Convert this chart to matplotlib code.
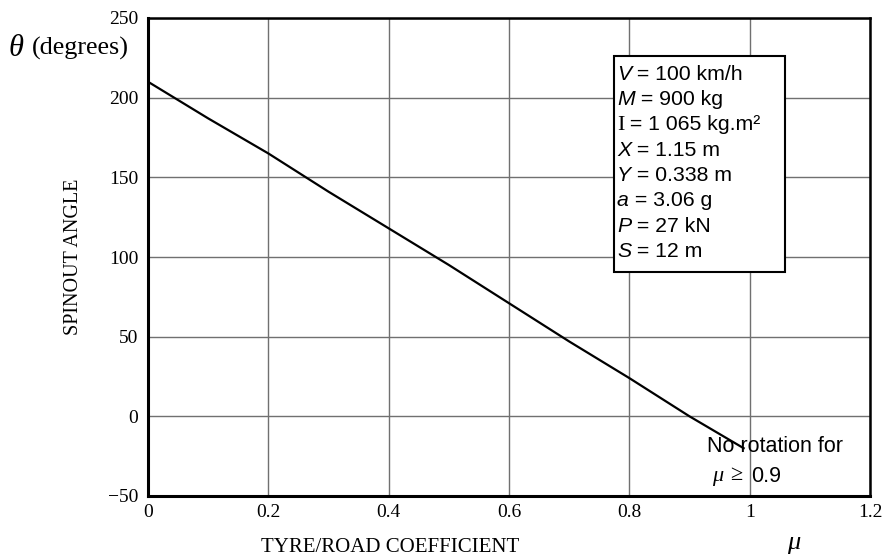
import matplotlib
matplotlib.use("Agg")
import matplotlib.pyplot as plt
from matplotlib.patches import Rectangle
from matplotlib.offsetbox import TextArea, HPacker, AnchoredOffsetbox

mu = [0.0, 0.1, 0.2, 0.3, 0.4, 0.5, 0.6, 0.7, 0.8, 0.9, 0.99]
theta = [210, 187, 165, 141, 118, 95, 71, 47, 24, 0, -20]

xticks = [0, 0.2, 0.4, 0.6, 0.8, 1.0, 1.2]
xticklabels = ["0", "0.2", "0.4", "0.6", "0.8", "1", "1.2"]
yticks = [-50, 0, 50, 100, 150, 200, 250]
yticklabels = ["\u221250", "0", "50", "100", "150", "200", "250"]

params = [
    ("V", "it", " = 100 km/h"),
    ("M", "it", " = 900 kg"),
    ("I", "serif", " = 1 065 kg.m\u00b2"),
    ("X", "it", " = 1.15 m"),
    ("Y", "it", " = 0.338 m"),
    ("a", "it", " = 3.06 g"),
    ("P", "it", " = 27 kN"),
    ("S", "it", " = 12 m"),
]

SERIF = "Liberation Serif"
SANS = "Liberation Sans"
W, H = 890, 559


def fx(px):
    return px / W


def fy(py):
    return 1 - py / H


fig = plt.figure(figsize=(8.9, 5.59), dpi=100)
ax = fig.add_axes([fx(148), fy(496), fx(870) - fx(148), fy(18) - fy(496)])

ax.plot(mu, theta, color="black", lw=1.6, zorder=3)

ax.set_xlim(0, 1.2)
ax.set_ylim(-50, 250)
ax.set_xticks(xticks)
ax.set_xticklabels(xticklabels, fontfamily=SERIF, fontsize=14)
ax.set_yticks(yticks)
ax.set_yticklabels(yticklabels, fontfamily=SERIF, fontsize=14)
ax.tick_params(axis="y", length=0, pad=7)
ax.tick_params(axis="x", length=0, pad=6)
ax.grid(True, color="#707070", lw=1.0)
ax.set_axisbelow(True)
for side in ["left", "bottom"]:
    ax.spines[side].set_linewidth(2.2)
for side in ["top", "right"]:
    ax.spines[side].set_linewidth(1.8)

# Axis labels
fig.text(fx(9), fy(48), "\u03b8", fontfamily=SERIF, style="italic",
         fontsize=22, va="center", ha="left")
fig.text(fx(32), fy(48), "(degrees)", fontfamily=SERIF,
         fontsize=18.8, va="center", ha="left")
fig.text(fx(73), fy(257), "SPINOUT ANGLE", fontfamily=SERIF,
         fontsize=14.5, rotation=90, va="center", ha="center")
fig.text(fx(390), fy(547), "TYRE/ROAD COEFFICIENT", fontfamily=SERIF,
         fontsize=15, va="center", ha="center")
fig.text(fx(794), fy(543), "\u03bc", fontfamily=SERIF, style="italic",
         fontsize=19, va="center", ha="center")

# Parameter box
fig.add_artist(Rectangle((fx(614), fy(272)), fx(785) - fx(614), fy(56) - fy(272),
                         transform=fig.transFigure, facecolor="white",
                         edgecolor="black", lw=1.5, zorder=4))
row_y0, row_pitch = 72, 25.4
for i, (sym, kind, rest) in enumerate(params):
    if kind == "it":
        p1 = TextArea(sym, textprops=dict(fontfamily=SANS, style="italic", fontsize=15.3))
    else:
        p1 = TextArea(sym, textprops=dict(fontfamily=SERIF, fontsize=16))
    p2 = TextArea(rest, textprops=dict(fontfamily=SANS, fontsize=15.3))
    row = HPacker(children=[p1, p2], align="baseline", pad=0, sep=0)
    ob = AnchoredOffsetbox(loc="center left", child=row, pad=0, borderpad=0,
                           frameon=False,
                           bbox_to_anchor=(fx(617), fy(row_y0 + i * row_pitch + 2)),
                           bbox_transform=fig.transFigure)
    ob.set_zorder(5)
    fig.add_artist(ob)

# No-rotation note
fig.text(fx(707), fy(447), "No rotation for", fontfamily=SANS,
         fontsize=15.5, va="center", ha="left", zorder=2)
fig.text(fx(712), fy(476), "\u03bc", fontfamily=SERIF, style="italic",
         fontsize=16, va="center", ha="left")
fig.text(fx(730), fy(476), "\u2265", fontfamily=SERIF,
         fontsize=16, va="center", ha="left")
fig.text(fx(751), fy(476), "0.9", fontfamily=SANS,
         fontsize=15.5, va="center", ha="left")

fig.savefig("out.png", dpi=100)
